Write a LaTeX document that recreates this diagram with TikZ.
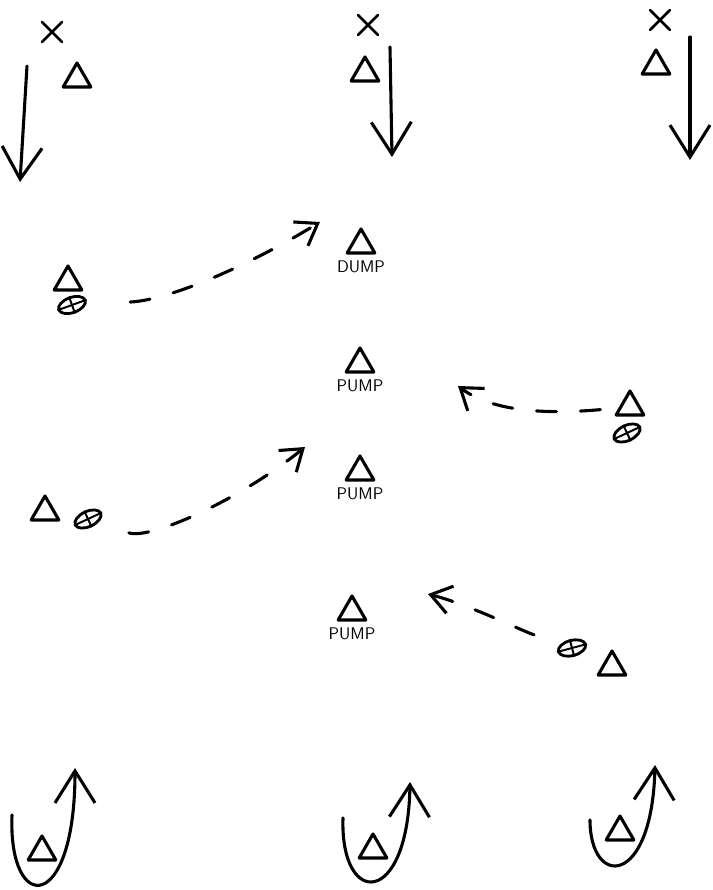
\documentclass[tikz,border=0pt]{standalone}
\usepackage{tikz}
\tikzstyle{tri} = [draw, line width=2.2pt, line join=round, regular polygon, regular polygon sides=3, minimum size=0.8cm, inner sep=0pt]
\tikzstyle{ball} = [draw, line width=2pt, ellipse, minimum width=0.7cm, minimum height=0.38cm, inner sep=0pt]
\tikzstyle{b} = [draw, line width=2.2pt, black, line cap=round, line join=round]
\tikzstyle{route} = [b, -{Straight Barb[length=8mm,width=10mm]}]
\tikzstyle{pass} = [b, -{Straight Barb[length=5mm,width=7mm]}, dash pattern=on 5mm off 6mm]
\tikzstyle{lbl} = [font=\sffamily\large, inner sep=0pt]
\tikzstyle{xmark} = [draw, cross out, line width=2pt, line cap=round, minimum size=0.42cm, inner sep=0pt]
\usetikzlibrary{arrows.meta,shapes.geometric,shapes.misc}

\begin{document}
\begin{tikzpicture}[x=0.025cm, y=-0.025cm, node distance=0.55cm]

\useasboundingbox (0,0) rectangle (712,890);

% Defenders and top runs
\node[xmark] (x1) at (52,32) {};
\node[xmark] (x2) at (368,25) {};
\node[xmark] (x3) at (660,20) {};
\node[tri] (t1) at (77,79) {};
\node[tri] (t2) at (365,73) {};
\node[tri] (t3) at (656,66) {};

\coordinate (s1) at (27,66);
\coordinate (e1) at (20,182);
\coordinate (s2) at (390,47);
\coordinate (e2) at (392,157);
\coordinate (s3) at (690,37);
\coordinate (e3) at (690,160);
\draw[route] (s1) -- (e1);
\draw[route] (s2) -- (e2);
\draw[route] (s3) -- (e3);

% Middle: pump spots
\node[tri] (p1) at (361,245) {};
\node[lbl] (l1) [below of=p1] {DUMP};
\node[tri] (p2) at (360,364) {};
\node[lbl] (l2) [below of=p2] {PUMP};
\node[tri] (p3) at (360,472) {};
\node[lbl] (l3) [below of=p3] {PUMP};
\node[tri] (p4) at (352,612) {};
\node[lbl] (l4) [below of=p4] {PUMP};

% Throwers with the ball
\node[tri] (q1) at (68,282) {};
\node[ball, rotate=20] (b1) at (72,305) {};
\node[tri] (q2) at (630,407) {};
\node[ball, rotate=25] (b2) at (627,433) {};
\node[tri] (q3) at (45,512) {};
\node[ball, rotate=25] (b3) at (88,519) {};
\node[ball, rotate=15] (b4) at (572,648) {};
\node[tri] (q4) at (612,667) {};

\foreach \n in {b1,b2,b3,b4}{
  \draw[line width=1.4pt] (\n.west) -- (\n.east);
  \draw[line width=1.4pt] (\n.north) -- (\n.south);
}

% Passes
\coordinate (c1) at (320,222);
\coordinate (c2) at (458,386);
\coordinate (c3) at (305,447);
\coordinate (c4) at (428,594);
\draw[pass, shorten <=1.1cm] (b1) .. controls (170,300) and (250,265) .. (c1);
\draw[pass, shorten <=0.45cm] (q2) .. controls (540,415) and (490,410) .. (c2);
\draw[pass, shorten <=0.8cm] (b3) .. controls (150,540) and (240,500) .. (c3);
\draw[pass, shorten <=0.7cm] (b4) .. controls (520,630) and (470,605) .. (c4);

% Bottom: players and their loops
\node[tri] (u1) at (42,852) {};
\node[tri] (u2) at (373,850) {};
\node[tri] (u3) at (620,832) {};

\coordinate (us1) at (12,815);
\coordinate (ue1) at (75,768);
\coordinate (us2) at (343,818);
\coordinate (ue2) at (410,782);
\coordinate (us3) at (590,820);
\coordinate (ue3) at (655,765);
\draw[route] (us1) .. controls (8,915) and (75,915) .. (ue1);
\draw[route] (us2) .. controls (340,908) and (408,908) .. (ue2);
\draw[route] (us3) .. controls (590,888) and (652,888) .. (ue3);

\end{tikzpicture}
\end{document}
